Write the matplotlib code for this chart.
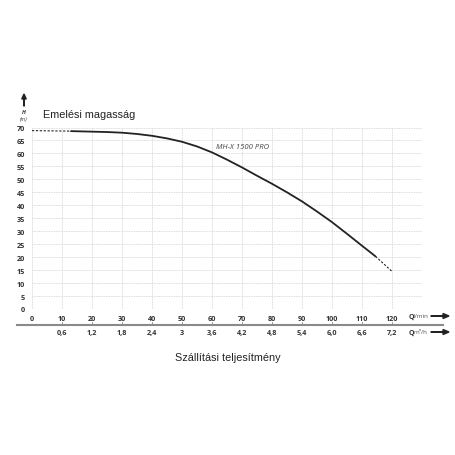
import matplotlib
matplotlib.use("Agg")
import matplotlib.pyplot as plt

# pump curve (Q in l/min, H in m)
q_lmin = [0, 13, 20, 25, 30, 35, 40, 45, 50, 55, 60, 65, 70, 75, 80, 85, 90, 95, 100,
          105, 110, 114.5, 120]
h_m = [68.8, 68.6, 68.4, 68.25, 68.0, 67.5, 66.8, 65.8, 64.5, 62.7, 60.4, 57.6, 54.6,
       51.4, 48.3, 45.0, 41.5, 37.6, 33.5, 29.0, 24.4, 20.3, 14.5]
solid_from, solid_to = 1, 21  # index range drawn solid, the rest dashed

x_ticks = [0, 10, 20, 30, 40, 50, 60, 70, 80, 90, 100, 110, 120]
y_ticks = [0, 5, 10, 15, 20, 25, 30, 35, 40, 45, 50, 55, 60, 65, 70]
m3h_labels = ["0,6", "1,2", "1,8", "2,4", "3", "3,6", "4,2", "4,8", "5,4", "6,0", "6,6", "7,2"]

W = 456.0


def fx(px):
    return px / W


def fy(py):
    return 1 - py / W


fig = plt.figure(figsize=(4.56, 4.56), dpi=100)
fig.patch.set_facecolor("white")

ax = fig.add_axes([fx(32), fy(310), 390 / W, 181.5 / W])
ax.set_xlim(0, 130)
ax.set_ylim(0, 70)

# grid
for v in range(0, 140, 10):
    ax.axvline(v, color="#cfcfcf", lw=0.6, ls=(0, (1, 1)), zorder=0)
for v in y_ticks:
    ax.axhline(v, color="#cfcfcf", lw=0.6, ls=(0, (1, 1)), zorder=0)

for s in ax.spines.values():
    s.set_visible(False)

ax.set_xticks(x_ticks)
ax.set_yticks(y_ticks)
ax.tick_params(length=0, labelsize=5.2, colors="#333333")
ax.tick_params(axis="x", pad=4)
ax.tick_params(axis="y", pad=5)
for lab in ax.get_xticklabels() + ax.get_yticklabels():
    lab.set_fontfamily("Open Sans")
    lab.set_fontweight("bold")

# curve
ax.plot(q_lmin[: solid_from + 1], h_m[: solid_from + 1], color="#222222", lw=0.8,
        ls=(0, (2, 1.5)), zorder=3)
ax.plot(q_lmin[solid_from: solid_to + 1], h_m[solid_from: solid_to + 1], color="#222222",
        lw=1.3, zorder=3, solid_capstyle="round", solid_joinstyle="round")
ax.plot(q_lmin[solid_to:], h_m[solid_to:], color="#222222", lw=0.8,
        ls=(0, (2, 1.5)), zorder=3)

ax.text(61.5, 62.5, "MH-X 1500 PRO", fontsize=5.5, style="italic", color="#444444",
        family="Open Sans", ha="left", va="center")

# titles
fig.text(fx(43), fy(115), "Emelési magasság", fontsize=7.8, family="Liberation Sans",
         color="#222222", ha="left", va="center")
fig.text(fx(228), fy(358), "Szállítási teljesítmény", fontsize=7.8,
         family="Liberation Sans", color="#222222", ha="center", va="center")

# y axis marker
fig.patches.append(matplotlib.patches.FancyArrow(
    fx(24), fy(107), 0, 7 / W, width=0.6 / W, head_width=4.5 / W, head_length=5 / W,
    color="#222222", transform=fig.transFigure, figure=fig))
fig.text(fx(24), fy(112.5), "H", fontsize=4, style="italic", fontweight="bold",
         family="Open Sans", color="#333333", ha="center", va="center")
fig.text(fx(24), fy(119), "(m)", fontsize=3.8, style="italic", family="Open Sans",
         color="#333333", ha="center", va="center")

# separator between the two flow scales
fig.add_artist(plt.Line2D([fx(17), fx(443)], [fy(325.5), fy(325.5)],
                          color="#8a8a8a", lw=1.5, transform=fig.transFigure))
x0_px, step_px = 32.0, 390.0 / 130
for i, lab in enumerate(m3h_labels):
    px = x0_px + (i + 1) * 10 * step_px
    fig.add_artist(plt.Line2D([fx(px), fx(px)], [fy(325.5), fy(322.5)],
                              color="#8a8a8a", lw=0.6, transform=fig.transFigure))
    fig.text(fx(px), fy(334), lab, fontsize=5.2, fontweight="bold", family="Open Sans",
             color="#333333", ha="center", va="center")

# unit labels with arrows
for ypx, unit in [(317, "l/min"), (333, "m³/h")]:
    fig.text(fx(409), fy(ypx), "Q", fontsize=5, fontweight="bold", family="Open Sans",
             color="#333333", ha="left", va="center")
    fig.text(fx(414), fy(ypx), unit, fontsize=4.5, family="Open Sans",
             color="#555555", ha="left", va="center")
    fig.patches.append(matplotlib.patches.FancyArrow(
        fx(431), fy(ypx), 12 / W, 0, width=0.6 / W, head_width=5 / W, head_length=6 / W,
        color="#222222", transform=fig.transFigure, figure=fig))

fig.savefig("out.png", dpi=100, facecolor="white")
